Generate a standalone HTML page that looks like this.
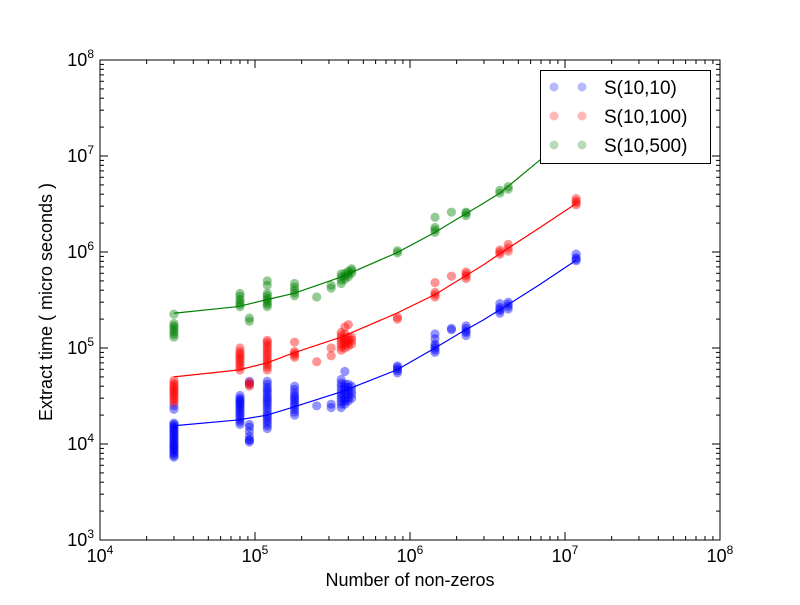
<!DOCTYPE html>
<html><head><meta charset="utf-8"><style>
body{margin:0;background:#fff}
svg text{font-family:"Liberation Sans","DejaVu Sans",sans-serif}
</style></head><body>
<svg id="chart" width="800" height="600" xmlns="http://www.w3.org/2000/svg">
<rect width="800" height="600" fill="#fff"/>
<g id="marks"></g>
<g id="axes"></g>
</svg>
<script>
const clusterX = [3e4, 8e4, 9.2e4, 1.2e5, 1.8e5, 2.5e5, 3.1e5, 3.6e5, 3.8e5, 4e5, 4.2e5, 8.3e5, 1.45e6, 1.85e6, 2.3e6, 3.8e6, 4.3e6, 1.18e7];
const blueY = [
 [7.3e3,7.6e3,7.9e3,8.2e3,8.5e3,8.8e3,9.1e3,9.4e3,9.7e3,1e4,1.04e4,1.08e4,1.12e4,1.16e4,1.2e4,1.25e4,1.3e4,1.35e4,1.4e4,1.45e4,1.5e4,1.55e4,1.6e4,1.65e4,2.3e4,2.5e4],
 [1.6e4,1.7e4,1.8e4,1.9e4,2e4,2.1e4,2.2e4,2.3e4,2.4e4,2.5e4,2.6e4,2.7e4,2.8e4,2.9e4,3e4,3.2e4],
 [1.05e4,1.1e4,1.1e4,1.2e4,1.35e4,1.5e4,1.6e4,4.2e4,4.5e4],
 [1.45e4,1.55e4,1.65e4,1.75e4,1.85e4,1.95e4,2.05e4,2.2e4,2.35e4,2.5e4,2.65e4,2.8e4,2.95e4,3.1e4,3.3e4,3.5e4,3.7e4,3.9e4,4.2e4,4.5e4],
 [2e4,2.15e4,2.3e4,2.45e4,2.6e4,2.75e4,2.9e4,3.05e4,3.2e4,3.4e4,3.7e4,4e4],
 [2.5e4],
 [2.4e4,2.6e4],
 [2.4e4,2.6e4,2.8e4,3e4,3.2e4,3.4e4,3.7e4,4e4,4.3e4,4.7e4],
 [2.6e4,2.8e4,3e4,3.3e4,3.6e4,3.9e4,4.2e4,5.7e4],
 [2.8e4,3e4,3.3e4,3.6e4,3.9e4,4.2e4],
 [3e4,3.3e4,3.6e4,4e4],
 [5.5e4,5.8e4,6e4,6.3e4,6.5e4],
 [9e4,9.5e4,1e5,1.05e5,1.1e5,1.25e5,1.4e5],
 [1.55e5,1.6e5],
 [1.35e5,1.45e5,1.5e5,1.6e5,1.7e5],
 [2.3e5,2.45e5,2.55e5,2.65e5,2.9e5],
 [2.55e5,2.7e5,2.85e5,3e5],
 [8.1e5,8.4e5,8.7e5,9.5e5]];
const redY = [
 [2.7e4,2.85e4,3e4,3.15e4,3.3e4,3.45e4,3.6e4,3.75e4,3.9e4,4.1e4,4.3e4,4.6e4],
 [5.9e4,6.3e4,6.7e4,7.1e4,7.5e4,7.9e4,8.3e4,8.7e4,9.2e4,1e5],
 [4e4,4.2e4,4.4e4],
 [5.9e4,6.3e4,6.7e4,7.1e4,7.5e4,8e4,8.5e4,9e4,9.6e4,1.02e5,1.08e5,1.15e5,1.2e5],
 [8e4,8.4e4,8.8e4,9.2e4,1.15e5],
 [7.2e4],
 [8.3e4,1e5],
 [9.5e4,1.02e5,1.1e5,1.18e5,1.26e5,1.35e5,1.45e5],
 [1e5,1.08e5,1.16e5,1.25e5,1.4e5,1.65e5],
 [1.05e5,1.12e5,1.2e5,1.3e5,1.75e5],
 [1.1e5,1.2e5,1.3e5],
 [2e5,2.1e5],
 [3.4e5,3.6e5,3.8e5,4.8e5],
 [5.6e5],
 [5.3e5,5.6e5,5.9e5,6.2e5],
 [9.5e5,1e6,1.05e6],
 [1.02e6,1.1e6,1.2e6],
 [3.1e6,3.25e6,3.4e6,3.6e6]];
const greenY = [
 [1.3e5,1.38e5,1.46e5,1.54e5,1.62e5,1.7e5,1.8e5,2.25e5],
 [2.7e5,2.85e5,3e5,3.2e5,3.45e5,3.7e5],
 [1.9e5,2.05e5],
 [2.7e5,2.85e5,3e5,3.15e5,3.3e5,3.5e5,3.7e5,4.5e5,5e5],
 [3.5e5,3.75e5,4e5,4.3e5,4.7e5],
 [3.4e5],
 [4.2e5,4.5e5],
 [4.7e5,5.1e5,5.5e5,5.9e5],
 [5.2e5,5.6e5,6e5],
 [5.5e5,5.9e5,6.3e5],
 [6e5,6.4e5,6.7e5],
 [9.8e5,1.03e6],
 [1.6e6,1.7e6,1.8e6,2.3e6],
 [2.6e6],
 [2.4e6,2.55e6,2.6e6],
 [4.1e6,4.4e6],
 [4.5e6,4.8e6],
 []];
const fitX = [3e4, 7.8e4, 1.2e5, 1.78e5, 3.6e5, 8.2e5, 1.45e6, 2.1e6, 2.96e6, 3.8e6, 6.9e6, 1.18e7];
const blueFit = [1.55e4, 1.78e4, 2e4, 2.43e4, 3.5e4, 5.9e4, 1e5, 1.43e5, 1.95e5, 2.5e5, 4.6e5, 8.2e5];
const redFit = [5e4, 5.9e4, 7e4, 8.9e4, 1.3e5, 2.3e5, 3.6e5, 5.2e5, 7.3e5, 9.6e5, 1.8e6, 3.2e6];
const greenFit = [2.3e5, 2.7e5, 3.2e5, 3.7e5, 5.5e5, 9.8e5, 1.6e6, 2.3e6, 3.2e6, 4.1e6, 9.1e6, 1.6e7];
const xTickExp = [4,5,6,7,8];
const yTickExp = [3,4,5,6,7,8];
const legendLabels = ["S(10,10)","S(10,100)","S(10,500)"];

const L=100,R=720,T=60,B=540, xMin=4,xMax=8,yMin=3,yMax=8;
const NS="http://www.w3.org/2000/svg";
function sx(v){return L+(Math.log10(v)-xMin)/(xMax-xMin)*(R-L);}
function sy(v){return B-(Math.log10(v)-yMin)/(yMax-yMin)*(B-T);}
function mk(tag,attrs,parent){const e=document.createElementNS(NS,tag);for(const k in attrs)e.setAttribute(k,attrs[k]);parent.appendChild(e);return e;}
const marks=document.getElementById('marks'), axes=document.getElementById('axes');
const series=[{y:blueY,fit:blueFit,c:"#0000ff",n:"blue"},{y:redY,fit:redFit,c:"#ff0000",n:"red"},{y:greenY,fit:greenFit,c:"#008000",n:"green"}];
series.forEach(s=>{
  const g=mk('g',{},marks);
  
  
  s.y.forEach((arr,i)=>arr.forEach(v=>{
    const c=mk('circle',{cx:sx(clusterX[i]),cy:sy(v),r:4.6,fill:s.c,'fill-opacity':0.42},g);
    
    
  }));
});
series.forEach(s=>{
  const d=fitX.map((x,i)=>(i?'L':'M')+sx(x).toFixed(2)+','+sy(s.fit[i]).toFixed(2)).join(' ');
  const p=mk('path',{d:d,fill:'none',stroke:s.c,'stroke-width':1.2,'stroke-linejoin':'round'},marks);
  
  
});
const frame=mk('rect',{x:L,y:T,width:R-L,height:B-T,fill:'none',stroke:'#000','stroke-width':1},axes);


function tick(x1,y1,x2,y2){const t=mk('line',{x1,y1,x2,y2,stroke:'#000','stroke-width':1},axes);}
for(let e=xMin;e<xMax;e++)for(let m=2;m<10;m++){const x=sx(m*Math.pow(10,e));tick(x,B,x,B-4);tick(x,T,x,T+4);}
for(let e=yMin;e<yMax;e++)for(let m=2;m<10;m++){const y=sy(m*Math.pow(10,e));tick(L,y,L+4,y);tick(R,y,R-4,y);}
xTickExp.forEach(e=>{const x=sx(Math.pow(10,e));tick(x,B,x,B-8);tick(x,T,x,T+8);
  const t=mk('text',{x:x,y:B+22,'text-anchor':'middle','font-size':18},axes);
  
  t.innerHTML='10<tspan dy="-8" font-size="12">'+e+'</tspan>';});
yTickExp.forEach(e=>{const y=sy(Math.pow(10,e));tick(L,y,L+8,y);tick(R,y,R-8,y);
  const t=mk('text',{x:L-6,y:y+6,'text-anchor':'end','font-size':18},axes);
  
  t.innerHTML='10<tspan dy="-8" font-size="12">'+e+'</tspan>';});
const xt=mk('text',{x:(L+R)/2,y:586,'text-anchor':'middle','font-size':18},axes);

xt.textContent='Number of non-zeros';
const yt=mk('text',{x:0,y:0,'text-anchor':'middle','font-size':18,transform:'translate(52,302) rotate(-90)'},axes);

yt.textContent='Extract time ( micro seconds )';
const lg=mk('g',{},axes);

mk('rect',{x:540.5,y:70.5,width:170,height:93,fill:'#fff',stroke:'#000','stroke-width':1},lg);
legendLabels.forEach((lab,i)=>{const y=87+i*29;
  const e=mk('g',{},lg);
  mk('circle',{cx:554,cy:y,r:4.5,fill:series[i].c,'fill-opacity':0.28},e);
  mk('circle',{cx:582,cy:y,r:4.5,fill:series[i].c,'fill-opacity':0.28},e);
  const t=mk('text',{x:604,y:y+7,'font-size':19},e);t.textContent=lab;});
</script>
</body></html>
